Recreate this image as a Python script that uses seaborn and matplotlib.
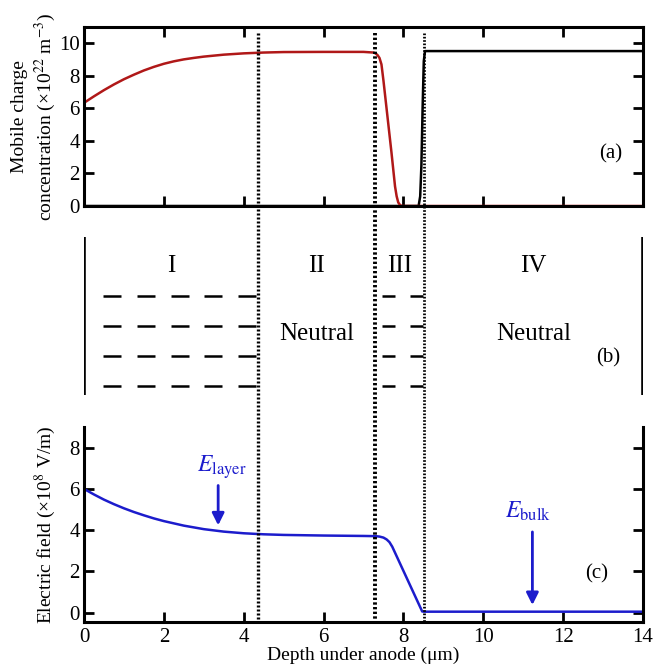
import numpy as np
import pandas as pd
import matplotlib
matplotlib.use("Agg")
import matplotlib.pyplot as plt
import seaborn as sns

# ---------------- data ----------------
depth_red = [0, 0.25, 0.5, 0.75, 1.0, 1.25, 1.5, 1.75, 2.0, 2.25, 2.5, 2.75, 3.0, 3.5, 4.0, 4.5,
             5.0, 6.0, 7.0, 7.25, 7.3, 7.35, 7.4, 7.45, 7.5, 7.6, 7.7, 7.79, 7.83, 7.87, 7.92,
             7.97, 14.0]
conc_red = [6.34, 6.74, 7.12, 7.47, 7.79, 8.07, 8.33, 8.55, 8.74, 8.89, 9.01, 9.1, 9.18, 9.3,
            9.38, 9.43, 9.46, 9.47, 9.47, 9.43, 9.38, 9.28, 9.1, 8.7, 7.7, 5.5, 3.3, 1.2, 0.6,
            0.22, 0.04, 0.0, 0.0]

depth_black = [0, 8.38, 8.42, 8.45, 8.48, 8.51, 8.54, 14.0]
conc_black = [0, 0, 0.6, 2.5, 6.0, 8.9, 9.52, 9.52]

depth_field = [0, 0.25, 0.5, 0.75, 1.0, 1.25, 1.5, 1.75, 2.0, 2.5, 3.0, 3.5, 4.0, 4.5, 5.0,
               6.0, 7.0, 7.3, 7.4, 7.5, 7.58, 7.65, 7.72, 8.47, 8.52, 14.0]
field = [6.0, 5.73, 5.48, 5.26, 5.06, 4.88, 4.72, 4.57, 4.44, 4.22, 4.05, 3.93, 3.85, 3.8, 3.77,
         3.74, 3.72, 3.71, 3.69, 3.64, 3.55, 3.42, 3.2, 0.06, 0.05, 0.05]

boundaries = [0, 4.36, 7.28, 8.52, 14]
region_names = ["I", "II", "III", "IV"]
region_desc = ["", "Neutral", "", "Neutral"]
region_charged = [True, False, True, False]

E_layer_x, E_layer_tip = 3.36, 4.1
E_bulk_x, E_bulk_tip = 11.23, 0.24

# ---------------- style ----------------
sns.set_theme(style="ticks")
plt.rcParams["font.family"] = ["Liberation Serif", "DejaVu Serif"]
plt.rcParams["mathtext.fontset"] = "stix"
plt.rcParams["axes.linewidth"] = 2.2
for key in ["text.color", "axes.labelcolor", "xtick.color", "ytick.color", "axes.edgecolor"]:
    plt.rcParams[key] = "black"

RED = "#b01818"
BLUE = "#1c1ccc"

fig = plt.figure(figsize=(6.54, 6.7), dpi=100)
W, H = 654.0, 670.0
L, R = 84 / W, 643 / W

def box(top_px, bot_px):
    return [L, 1 - bot_px / H, R - L, (bot_px - top_px) / H]

ax_a = fig.add_axes(box(27, 206))
ax_b = fig.add_axes(box(215, 425))
ax_c = fig.add_axes(box(427, 622))

# ---------------- panel (a) ----------------
df_black = pd.DataFrame({"x": depth_black, "y": conc_black})
df_red = pd.DataFrame({"x": depth_red, "y": conc_red})
sns.lineplot(data=df_black, x="x", y="y", ax=ax_a, color="black", lw=1.8, estimator=None, sort=False)
sns.lineplot(data=df_red, x="x", y="y", ax=ax_a, color=RED, lw=1.8, estimator=None, sort=False)
ax_a.set_xlim(0, 14)
ax_a.set_ylim(0, 11)
ax_a.set_xticks(np.arange(0, 15, 2))
ax_a.set_yticks(np.arange(0, 11, 2))
ax_a.tick_params(direction="in", length=7, width=2, top=True, right=True,
                 labelbottom=False, labelsize=15, pad=3)
ax_a.set_xlabel("")
ax_a.set_ylabel("Mobile charge\nconcentration (×10$^{22}$ m$^{-3}$)", fontsize=14, labelpad=1,
                linespacing=1.25)
ax_a.text(13.2, 3.2, "(a)", fontsize=15, ha="center", va="center")

# ---------------- panel (b) ----------------
ax_b.set_xlim(0, 14)
ax_b.set_ylim(425, 215)
ax_b.axis("off")
ax_b.vlines([boundaries[0], boundaries[-1]], 237, 395, color="black", lw=2.6)
row_y = [296.5, 326.5, 356.5, 386]
for i, name in enumerate(region_names):
    lo, hi = boundaries[i], boundaries[i + 1]
    mid = (lo + hi) / 2
    ax_b.text(mid, 266, name, fontsize=18, ha="center", va="center")
    if region_desc[i]:
        ax_b.text(mid, 334, region_desc[i], fontsize=18, ha="center", va="center")
    if region_charged[i]:
        if hi - lo > 2:
            starts = np.arange(lo + 0.48, hi, 0.845)
            dlen = 0.45
        else:
            starts = np.arange(lo + 0.18, hi, 0.7)
            dlen = 0.33
        for y in row_y:
            for s in starts:
                ax_b.plot([s, min(s + dlen, hi - 0.02)], [y, y], color="black", lw=1.8,
                          solid_capstyle="butt")
ax_b.text(13.13, 358, "(b)", fontsize=15, ha="center", va="center")

# ---------------- panel (c) ----------------
df_field = pd.DataFrame({"x": depth_field, "y": field})
sns.lineplot(data=df_field, x="x", y="y", ax=ax_c, color=BLUE, lw=1.8, estimator=None, sort=False)
ax_c.set_xlim(0, 14)
ax_c.set_ylim(-0.45, 9)
ax_c.set_xticks(np.arange(0, 15, 2))
ax_c.set_yticks(np.arange(0, 9, 2))
ax_c.spines["top"].set_visible(False)
ax_c.tick_params(direction="in", length=7, width=2, top=False, right=True,
                 labelsize=15, pad=4)
ax_c.tick_params(axis="y", pad=3)
ax_c.set_xlabel("Depth under anode (μm)", fontsize=14, labelpad=0)
ax_c.set_ylabel("Electric field (×10$^8$ V/m)", fontsize=14, labelpad=8)
ax_c.text(12.85, 1.9, "(c)", fontsize=15, ha="center", va="center")

ax_c.annotate("", xy=(E_layer_x, E_layer_tip), xytext=(E_layer_x, 6.3),
              arrowprops=dict(arrowstyle="-|>", color=BLUE, lw=2, mutation_scale=18))
ax_c.text(E_layer_x + 0.1, 6.85, r"$\mathit{E}_{\mathrm{layer}}$", color=BLUE, fontsize=17,
          ha="center", va="baseline")
ax_c.annotate("", xy=(E_bulk_x, E_bulk_tip), xytext=(E_bulk_x, 4.05),
              arrowprops=dict(arrowstyle="-|>", color=BLUE, lw=2, mutation_scale=18))
ax_c.text(E_bulk_x - 0.1, 4.6, r"$\mathit{E}_{\mathrm{bulk}}$", color=BLUE, fontsize=17,
          ha="center", va="baseline")

# ---------------- dotted boundaries across panels ----------------
ax_o = fig.add_axes([L, 0, R - L, 1], zorder=10)
ax_o.patch.set_alpha(0)
ax_o.set_xlim(0, 14)
ax_o.set_ylim(H, 0)
ax_o.axis("off")
for xb, lw in zip(boundaries[1:-1], [2.4, 2.8, 2.0]):
    ax_o.plot([xb, xb], [33, 622], color="black", lw=lw, linestyle=(0, (0.6, 0.6)))

fig.savefig("out.png", dpi=100)
